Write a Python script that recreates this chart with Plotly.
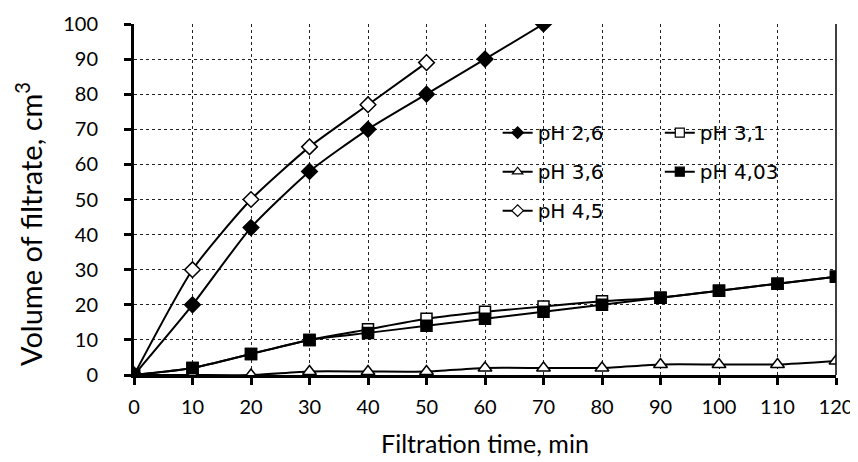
import plotly.graph_objects as go

time = [0, 10, 20, 30, 40, 50, 60, 70, 80, 90, 100, 110, 120]
ph26 = [0, 20, 42, 58, 70, 80, 90, 100]
ph31 = [0, 2, 6, 10, 13, 16, 18, 19.5, 21, 22, 24, 26, 28]
ph36 = [0, 0, 0, 1, 1, 1, 2, 2, 2, 3, 3, 3, 4]
ph403 = [0, 2, 6, 10, 12, 14, 16, 18, 20, 22, 24, 26, 28]
ph45 = [0, 30, 50, 65, 77, 89]

names = ["pH 2,6", "pH 3,1", "pH 3,6", "pH 4,03", "pH 4,5"]

fig = go.Figure()

def add(y, name, symbol, fill, size):
    fig.add_trace(go.Scatter(
        x=time[:len(y)], y=y, name=name, mode="lines+markers",
        line=dict(color="black", width=2, shape="spline", smoothing=0.6),
        marker=dict(symbol=symbol, size=size, color=fill,
                    line=dict(color="black", width=1.5)),
        showlegend=False,
    ))

def leg(name, symbol, fill, legend, rank):
    fig.add_trace(go.Scatter(
        x=[None], y=[None], name=name, mode="lines+markers",
        line=dict(color="black", width=2),
        marker=dict(symbol=symbol, size=9, color=fill,
                    line=dict(color="black", width=1.2)),
        legend=legend, legendgroup=name, legendrank=rank,
    ))

add(ph36, names[2], "triangle-up", "white", 12)
add(ph31, names[1], "square", "white", 11)
add(ph403, names[3], "square", "black", 11)
add(ph45, names[4], "diamond", "white", 12)
add(ph26, names[0], "diamond", "black", 12)

leg(names[0], "diamond", "black", "legend", 1)
leg(names[2], "triangle-up", "white", "legend", 2)
leg(names[4], "diamond", "white", "legend", 3)
leg(names[1], "square", "white", "legend2", 1)
leg(names[3], "square", "black", "legend2", 2)

tickfont = dict(family="Lato", size=20, color="black")
legfont = dict(family="DejaVu Sans", size=20, color="black")
fig.update_layout(
    width=850, height=454,
    margin=dict(l=126, r=22, t=16, b=87),
    paper_bgcolor="white", plot_bgcolor="white",
    xaxis=dict(range=[0, 120], dtick=10, tickfont=tickfont, automargin=False,
               showline=True, linecolor="black", linewidth=3,
               ticks="outside", ticklen=7, tickwidth=3, tickcolor="black",
               ticklabelstandoff=5,
               showgrid=True, gridcolor="#222", griddash="dot", gridwidth=1,
               zeroline=False,
               title=dict(text="Filtration time, min",
                          font=dict(family="Lato", size=25, color="black"),
                          standoff=19)),
    yaxis=dict(range=[0, 100], dtick=10, tickfont=tickfont, automargin=False,
               showline=True, linecolor="black", linewidth=3,
               ticks="outside", ticklen=7, tickwidth=3, tickcolor="black",
               ticklabelstandoff=22,
               showgrid=True, gridcolor="#222", griddash="dot", gridwidth=1,
               zeroline=False),
    annotations=[dict(text="Volume of filtrate, cm<sup>3</sup>", textangle=-90,
                      xref="paper", yref="paper", x=0, y=0.43,
                      xanchor="center", yanchor="middle", xshift=-105,
                      showarrow=False,
                      font=dict(family="Lato", size=29, color="black"))],
    legend=dict(x=0.518, y=0.746, xanchor="left", yanchor="top",
                bgcolor="rgba(0,0,0,0)", tracegroupgap=10,
                traceorder="grouped", font=legfont),
    legend2=dict(x=0.749, y=0.746, xanchor="left", yanchor="top",
                 bgcolor="rgba(0,0,0,0)", tracegroupgap=10,
                 traceorder="grouped", font=legfont),
    showlegend=True,
    shapes=[
        dict(type="rect", xref="paper", yref="paper", x0=0.487, x1=0.95,
             y0=0.395, y1=0.745, fillcolor="white", line=dict(width=0),
             layer="between"),
        dict(type="line", xref="paper", yref="paper", x0=1, x1=1, y0=0, y1=1,
             line=dict(color="black", width=1.5)),
    ],
)

fig.write_html("out.html")
